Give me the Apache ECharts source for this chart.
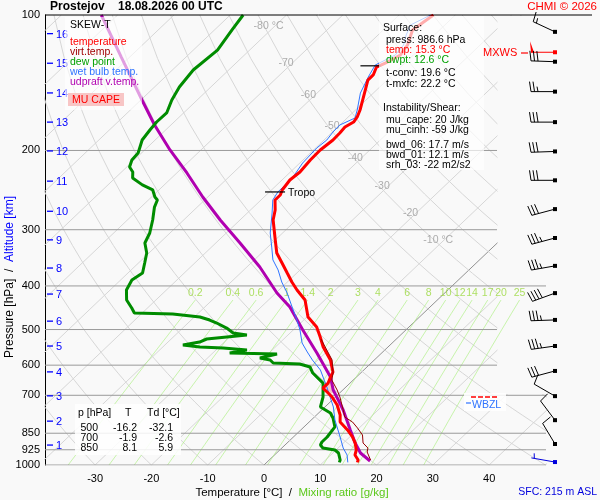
<!DOCTYPE html>
<html>
<head>
<meta charset="utf-8">
<script src="https://cdn.jsdelivr.net/npm/echarts@6/dist/echarts.min.js"></script>
<style>
  html, body { margin: 0; padding: 0; background: #f9f9f9; }
  #skewt { width: 600px; height: 500px; }
</style>
</head>
<body>
<div id="skewt"></div>
<script>
// sounding profiles (pressure hPa / temperature degC)
const tempP = [100, 108, 116.6, 122.7, 127.2, 130.5, 135.9, 139.5, 146.8, 154.5, 162.6, 168.5, 172.9, 177.4, 182.9, 189.6, 199.5, 210, 223.3, 232.6, 244.8, 251.2, 257.7, 271.3, 285.5, 316.2, 338, 355.7, 374.5, 392.1, 408.4, 429.9, 469, 493.6, 519.5, 546.8, 584.3, 621.5, 637.6, 657.5, 674.5, 688.4, 706.2, 735.6, 774.3, 802.5, 835.9, 866.5, 893.6, 926.1, 950.2, 974.7, 986.6];
const tempC = [-53.9, -54.8, -52.9, -52.3, -53.3, -54.3, -53.4, -53.4, -52.0, -50.6, -49.2, -48.4, -48.1, -48.7, -48.5, -48.4, -48.8, -48.7, -48.3, -48.6, -48.1, -47.5, -47.5, -45.6, -44.1, -40.0, -37.3, -34.5, -31.7, -29.2, -26.8, -23.5, -19.8, -16.4, -13.9, -11.5, -7.8, -5.1, -4.6, -3.9, -3.9, -2.4, -0.6, 1.8, 4.2, 5.5, 8.3, 10.5, 12.1, 13.6, 14.3, 15.8, 16.1];

const virtP = [524.8, 584.3, 624.6, 647.5, 681.3, 706.2, 754.6, 782.4, 802.5, 827.4, 857.7, 893.6, 916.8, 935.7, 974.7];
const virtC = [-13.4, -7.5, -4.9, -3.8, -1.0, 0.8, 3.8, 5.4, 7.7, 9.7, 11.9, 13.5, 15.3, 15.9, 18.0];

const dewP = [100, 108, 119.7, 132.5, 144.5, 154.5, 165.1, 172.9, 180.1, 189.6, 202.6, 210, 217.7, 223.3, 230.3, 238.5, 244.8, 253.8, 257.7, 267.2, 285.5, 305.1, 321.1, 338, 355.7, 374.5, 388, 408.4, 429.9, 447.8, 459.4, 461.8, 469, 476.3, 483.6, 496.2, 509, 514.2, 519.5, 524.8, 533, 541.2, 546.8, 549.5, 555.1, 563.8, 566.7, 578.4, 584.3, 593.4, 596.5, 605.7, 624.6, 657.5, 706.2, 743.2, 766.5, 786.4, 823.1, 866.5, 888.9, 902.9, 916.8, 926.1, 940.4, 974.7, 986.6];
const dewC = [-87.7, -86.9, -85.7, -86.3, -85.6, -84.5, -83.0, -83.1, -82.8, -82.3, -80.6, -80.4, -79.5, -78.0, -76.9, -73.9, -71.1, -69.4, -68.4, -67.6, -65.5, -63.6, -62.6, -60.4, -58.9, -57.4, -58.0, -57.1, -55.2, -52.8, -51.4, -44.4, -39.0, -36.7, -34.9, -32.2, -30.1, -27.3, -30.5, -33.7, -34.4, -36.8, -33.4, -29.1, -24.5, -27.0, -18.4, -20.7, -18.5, -17.4, -12.5, -10.1, -8.5, -4.8, -2.2, -0.8, 2.1, 3.5, 5.5, 6.0, 6.0, 6.3, 7.3, 9.8, 11.0, 12.6, 12.9];

const wetP = [100, 105.2, 110.8, 116.6, 122.7, 129.2, 137.3, 149.1, 162.6, 169.4, 175.6, 182, 189.6, 197.5, 213.3, 229.1, 241.1, 247.3, 257.7, 275.4, 305.1, 327.9, 350.1, 368.6, 392.1, 414.7, 445.5, 476.3, 501.2, 535.7, 560.9, 584.3, 615.1, 670.9, 743.2, 794.3, 866.5, 916.8, 950.2, 986.6];
const wetC = [-54.4, -56.1, -55.0, -53.6, -53.2, -54.9, -53.9, -52.3, -49.7, -48.6, -50.0, -49.9, -49.5, -49.8, -49.5, -48.6, -48.5, -48.5, -47.9, -45.6, -42.2, -39.3, -36.7, -33.9, -31.0, -28.0, -24.5, -21.2, -18.8, -16.0, -13.4, -11.0, -7.7, -3.4, 1.5, 4.2, 8.3, 10.9, 12.9, 14.4];

const parcelP = [100, 124, 154.5, 175.6, 199.5, 224.4, 253.8, 285.5, 321.1, 363.1, 414.7, 445.5, 501.2, 563.8, 637.6, 681.3, 728.2, 754.6, 835.9, 893.6, 940.4, 979.7];
const parcelC = [-112.9, -101.5, -89.8, -82.9, -75.5, -68.2, -60.9, -53.5, -45.7, -37.7, -29.8, -24.9, -18.3, -11.5, -4.6, -1.7, 1.9, 3.8, 8.8, 12.1, 14.9, 18.1];

const capeP = [654.1, 674.5, 695.5, 688.4, 654.1];
const capeC = [-3.9, -3.9, -1.5, -1.0, -3.6];

const tropoP = [247.3, 129.7];
const tropoC = [-49.0, -55.6];

// winds
const windP = [109, 121, 127, 148, 173, 201, 233, 270, 313, 361, 415, 476, 544, 618, 703, 795, 898, 985];
const windDir = [295, 270, 272, 270, 270, 268, 270, 255, 255, 260, 250, 268, 262, 255, 300, 323, 329, 280];
const windKt = [15, 50, 30, 25, 30, 30, 30, 30, 35, 35, 40, 35, 35, 30, 10, 10, 10, 5];
const windKind = [0, 1, 0, 0, 0, 0, 0, 0, 0, 0, 0, 0, 0, 0, 0, 0, 0, 2];

// altitude marks (km) and where they sit on the pressure axis
const altKm = [1, 2, 3, 4, 5, 6, 7, 8, 9, 10, 11, 12, 13, 14, 15, 16];
const altP = [903, 799, 702, 621, 544, 479, 417, 365, 316, 273, 234, 200.5, 173, 149, 128, 110];

// diagram furniture
const pressTicks = [100, 200, 300, 400, 500, 600, 700, 850, 925, 1000];
const pressLinesShort = [200, 300, 500, 600];
const pressLinesLong = [400, 700, 850, 925, 1000];
const tempTicks = [-30, -20, -10, 0, 10, 20, 30, 40];
const isoTemps = [-120, -110, -100, -90, -80, -70, -60, -50, -40, -30, -20, -10, 0, 10, 20, 30, 40, 50];
const isoLabelT = [-80, -70, -60, -50, -40, -30, -20, -10];
const isoLabelP = [106, 128, 151, 177, 208, 240, 275, 316];
const dryT1000 = [-40, -30, -20, -10, 0, 10, 20, 30, 40, 50, 60, 70, 80, 90, 100, 110, 120, 130, 140, 150, 160, 170, 180, 190];
const mixRatios = [0.2, 0.4, 0.6, 1, 1.4, 2, 3, 4, 6, 8, 10, 12, 14, 17, 20, 25];
const mixLevels = [1000, 950, 900, 850, 800, 750, 700, 650, 600, 550, 500, 460, 430];

const FONT = '"Liberation Sans", Arial, sans-serif';
const X_MIN = -38.9, X_MAX = 50.1, X_INNER = 41.4, SKEW = 84;
const skewX = (t, p) => t + SKEW * Math.log10(1000 / p);
const toPts = (P, T) => P.map((p, i) => [skewX(T[i], p), p]);

const series = [];
function addLine(data, color, width, z, extra) {
  series.push(Object.assign({
    type: 'line', data: data, symbol: 'none', silent: true, z: z,
    lineStyle: { color: color, width: width }, clip: true
  }, extra || {}));
}

// isotherms
isoTemps.forEach(t => {
  addLine([[skewX(t, 1000), 1000], [skewX(t, 100), 100]], t === 0 ? '#777' : '#d6d6d6', t === 0 ? 0.8 : 1, 1);
});
// dry adiabats
const adiabatP = [];
for (let p = 1000; p >= 100; p -= 25) adiabatP.push(p);
dryT1000.forEach(t0 => {
  const th = t0 + 273.15;
  addLine(adiabatP.map(p => [skewX(th * Math.pow(p / 1000, 0.2857) - 273.15, p), p]), '#d6d6d6', 1, 1);
});
// mixing ratio lines
const mixDew = (w, p) => {
  const e = w * p / (622 + w);
  const l = Math.log(e / 6.112);
  return 243.5 * l / (17.67 - l);
};
mixRatios.forEach(w => {
  addLine(mixLevels.map(p => [skewX(mixDew(w, p), p), p]), '#b2f08a', 0.7, 1.8);
});
series.push({
  type: 'scatter', symbolSize: 0, silent: true, z: 2,
  data: mixRatios.map(w => [skewX(mixDew(w, 430), 430), 430, w]),
  label: { show: true, position: 'top', distance: 1, formatter: p => String(p.value[2]),
           color: '#9ad83c', fontSize: 10.5, fontFamily: FONT }
});
// isotherm labels
series.push({
  type: 'scatter', symbolSize: 0, silent: true, z: 2,
  data: isoLabelT.map((t, i) => [skewX(t, isoLabelP[i]), isoLabelP[i], t]),
  label: { show: true, position: 'inside', offset: [-6, 0],
           formatter: p => (p.value[2] === -80 || p.value[2] === -10) ? p.value[2] + ' °C' : String(p.value[2]),
           color: '#999', fontSize: 10.5, fontFamily: FONT }
});
// pressure levels
pressLinesShort.forEach(p => addLine([[X_MIN, p], [X_INNER, p]], '#9a9a9a', 1, 2));
pressLinesLong.forEach(p => addLine([[X_MIN, p], [X_MAX, p]], '#9a9a9a', 1, 2));

// CAPE area
series.push({
  type: 'custom', z: 3, silent: true,
  data: toPts(capeP, capeC),
  renderItem: (params, api) => {
    if (params.dataIndex !== 0) return;
    const pts = capeP.map((p, i) => api.coord([skewX(capeC[i], p), p]));
    return { type: 'polygon', shape: { points: pts }, style: { fill: '#f5c6c6' } };
  }
});

// profiles
addLine(toPts(parcelP, parcelC), '#b000b0', 3, 4);
addLine(toPts(dewP, dewC), '#008c00', 3, 4);
addLine(toPts(wetP, wetC), '#2f74ff', 1, 5);
addLine(toPts(tempP, tempC), '#ff0000', 3, 5);
addLine(toPts(virtP, virtC), '#960000', 1, 6);

// tropopause marks
series.push({
  type: 'custom', z: 7, silent: true,
  data: toPts(tropoP, tropoC),
  renderItem: (params, api) => {
    const c = api.coord([api.value(0), api.value(1)]);
    const kids = [{ type: 'line', shape: { x1: c[0] - 10, y1: c[1], x2: c[0] + 10, y2: c[1] }, style: { stroke: '#000', lineWidth: 1.2 } }];
    if (params.dataIndex === 0) {
      kids.push({ type: 'text', style: { text: 'Tropo', x: c[0] + 13, y: c[1] + 1, fill: '#000', font: '10.5px ' + FONT, verticalAlign: 'middle' } });
    }
    return { type: 'group', children: kids };
  }
});

// altitude scale
series.push({
  type: 'custom', z: 7, silent: true,
  data: altP.map((p, i) => [X_MIN, p, altKm[i]]),
  renderItem: (params, api) => {
    const c = api.coord([X_MIN, api.value(1)]);
    return { type: 'group', children: [
      { type: 'line', shape: { x1: c[0] + 2, y1: c[1], x2: c[0] + 8, y2: c[1] }, style: { stroke: '#0000ff', lineWidth: 1.3 } },
      { type: 'text', style: { text: String(api.value(2)), x: c[0] + 11, y: c[1] + 1, fill: '#0000ff', font: '11px ' + FONT, verticalAlign: 'middle' } }
    ] };
  }
});

// wind barbs
series.push({
  type: 'custom', z: 7, silent: true,
  data: windP.map((p, i) => [p, windDir[i], windKt[i], windKind[i]]),
  encode: { x: -1, y: 0 },
  renderItem: (params, api) => {
    const base = api.coord([X_MAX, api.value(0)]);
    const sx = base[0] + 9, sy = base[1];
    const col = ['#000', '#ff0000', '#0000dd'][api.value(3)];
    const rad = api.value(1) * Math.PI / 180;
    const ux = Math.sin(rad), uy = -Math.cos(rad);
    const nx = -uy, ny = ux;
    const L = 24;
    const ex = sx + ux * L, ey = sy + uy * L;
    const kids = [
      { type: 'line', shape: { x1: sx, y1: sy, x2: ex, y2: ey }, style: { stroke: col, lineWidth: 1 } },
      { type: 'rect', shape: { x: sx - 2, y: sy - 2, width: 4, height: 4 }, style: { fill: col } }
    ];
    let rest = Math.round(api.value(2) / 5) * 5;
    let pos = 0;
    while (rest >= 50) {
      const px = ex - ux * pos, py = ey - uy * pos;
      kids.push({ type: 'polygon', shape: { points: [[px, py], [px + nx * 11 + ux * 1, py + ny * 11 + uy * 1], [px - ux * 3, py - uy * 3]] }, style: { fill: col } });
      pos += 4.5; rest -= 50;
    }
    while (rest >= 10) {
      const px = ex - ux * pos, py = ey - uy * pos;
      kids.push({ type: 'line', shape: { x1: px, y1: py, x2: px + nx * 10 + ux * 1.5, y2: py + ny * 10 + uy * 1.5 }, style: { stroke: col, lineWidth: 1 } });
      pos += 3.5; rest -= 10;
    }
    if (rest >= 5) {
      if (pos === 0) pos = 3;
      const px = ex - ux * pos, py = ey - uy * pos;
      kids.push({ type: 'line', shape: { x1: px, y1: py, x2: px + nx * 5 + ux * 1, y2: py + ny * 5 + uy * 1 }, style: { stroke: col, lineWidth: 1 } });
    }
    return { type: 'group', children: kids };
  }
});

const txt = (x, y, text, fill, size, extra) => Object.assign({
  type: 'text', x: x, y: y, z: 60,
  style: Object.assign({ text: text, fill: fill || '#000', font: (size || 10.5) + 'px ' + FONT, verticalAlign: 'middle' }, (extra || {}))
});

const graphics = [
  // upper right corner of the diagram carries no background grid
  { type: 'rect', z: 1.5, shape: { x: 497.5, y: 16, width: 50, height: 378 }, style: { fill: '#f9f9f9' } },
  { type: 'line', z: 40, shape: { x1: 45, y1: 15, x2: 592, y2: 15 }, style: { stroke: '#000', lineWidth: 1 } },
  // legend box
  { type: 'rect', z: 50, shape: { x: 65, y: 17, width: 77, height: 93 }, style: { fill: 'rgba(255,255,255,0.62)' } },
  { type: 'rect', z: 55, shape: { x: 68, y: 93, width: 56, height: 13 }, style: { fill: '#f8c6c6' } },
  txt(70, 25, 'SKEW-T', '#000', 10.5),
  txt(70, 42, 'temperature', '#ff0000'),
  txt(70, 52, 'virt.temp.', '#a00000'),
  txt(70, 62, 'dew point', '#00a000'),
  txt(70, 72, 'wet bulb temp.', '#2f74ff'),
  txt(70, 82, 'udpraft v.temp.', '#b000b0'),
  txt(96, 100, 'MU CAPE', '#ff0000', 10.5, { align: 'center' }),
  // info box
  { type: 'rect', z: 50, shape: { x: 379, y: 16, width: 105, height: 154 }, style: { fill: 'rgba(255,255,255,0.68)' } },
  txt(383, 28, 'Surface:'),
  txt(386, 40, 'press: 986.6 hPa'),
  txt(386, 50, 'temp: 15.3 °C', '#ff0000'),
  txt(386, 60, 'dwpt: 12.6 °C', '#00a000'),
  txt(386, 73, 't-conv: 19.6 °C'),
  txt(386, 84, 't-mxfc: 22.2 °C'),
  txt(383, 108, 'Instability/Shear:'),
  txt(386, 120, 'mu_cape: 20 J/kg'),
  txt(386, 130, 'mu_cinh: -59 J/kg'),
  txt(386, 145, 'bwd_06: 17.7 m/s'),
  txt(386, 155, 'bwd_01: 12.1 m/s'),
  txt(386, 165, 'srh_03: -22 m2/s2'),
  // level table
  { type: 'rect', z: 50, shape: { x: 75, y: 404, width: 106, height: 51 }, style: { fill: 'rgba(255,255,255,0.85)' } },
  txt(78, 413, 'p [hPa]'), txt(125, 413, 'T'), txt(147, 413, 'Td [°C]'),
  txt(98, 428, '500', '#000', 10.5, { align: 'right' }), txt(137, 428, '-16.2', '#000', 10.5, { align: 'right' }), txt(173, 428, '-32.1', '#000', 10.5, { align: 'right' }),
  txt(98, 438, '700', '#000', 10.5, { align: 'right' }), txt(137, 438, '-1.9', '#000', 10.5, { align: 'right' }), txt(173, 438, '-2.6', '#000', 10.5, { align: 'right' }),
  txt(98, 448, '850', '#000', 10.5, { align: 'right' }), txt(137, 448, '8.1', '#000', 10.5, { align: 'right' }), txt(173, 448, '5.9', '#000', 10.5, { align: 'right' }),
  // WBZL
  { type: 'rect', z: 50, shape: { x: 464, y: 393, width: 42, height: 18 }, style: { fill: 'rgba(255,255,255,0.85)' } },
  { type: 'line', z: 56, shape: { x1: 471, y1: 397, x2: 497, y2: 397 }, style: { stroke: '#ff0000', lineWidth: 1.5, lineDash: [5, 2] } },
  { type: 'line', z: 56, shape: { x1: 466, y1: 403, x2: 471, y2: 403 }, style: { stroke: '#2f74ff', lineWidth: 1.2 } },
  txt(472, 405, 'WBZL', '#2f74ff'),
  // MXWS
  txt(483, 53, 'MXWS', '#ff0000', 11),
  { type: 'line', z: 56, shape: { x1: 521, y1: 53, x2: 528, y2: 53 }, style: { stroke: '#ff0000', lineWidth: 1.2 } },
  // titles
  txt(50, 7, 'Prostejov', '#000', 12, { font: 'bold 12px ' + FONT }),
  txt(118, 7, '18.08.2026 00 UTC', '#000', 12, { font: 'bold 12px ' + FONT }),
  txt(597, 7, 'CHMI © 2026', '#ff0000', 11.5, { align: 'right' }),
  txt(597, 492, 'SFC: 215 m ASL', '#0000dd', 10.5, { align: 'right' }),
  {
    type: 'text', z: 60, x: 292, y: 493,
    style: {
      text: '{a|Temperature [°C]}{a|  /  }{b|Mixing ratio [g/kg]}', align: 'center', verticalAlign: 'middle',
      rich: { a: { fill: '#000', font: '11.5px ' + FONT }, b: { fill: '#5cc81c', font: '11.5px ' + FONT } }
    }
  },
  {
    type: 'text', z: 60, x: 10, y: 277, rotation: Math.PI / 2,
    style: {
      text: '{a|Pressure [hPa]}{a|  /  }{b|Altitude [km]}', align: 'center', verticalAlign: 'middle',
      rich: { a: { fill: '#000', font: '12px ' + FONT }, b: { fill: '#0000ff', font: '12px ' + FONT } }
    }
  }
];

const chart = echarts.init(document.getElementById('skewt'));
chart.setOption({
  animation: false,
  backgroundColor: '#f9f9f9',
  textStyle: { fontFamily: FONT },
  grid: { left: 45, right: 54, top: 15, bottom: 35, containLabel: false },
  xAxis: {
    type: 'value', min: X_MIN, max: X_MAX,
    axisLine: { show: false }, axisTick: { show: false }, splitLine: { show: false },
    axisLabel: { customValues: tempTicks, color: '#000', fontSize: 11, margin: 8, fontFamily: FONT }
  },
  yAxis: {
    type: 'log', logBase: 10, min: 100, max: 1000, inverse: true,
    axisLine: { show: true, onZero: false, lineStyle: { color: '#000', width: 1 } },
    axisTick: { show: false }, splitLine: { show: false }, minorSplitLine: { show: false },
    axisLabel: { customValues: pressTicks, formatter: v => String(Math.round(v)), color: '#000', fontSize: 11, margin: 5, fontFamily: FONT }
  },
  graphic: { elements: graphics },
  series: series
});
</script>
</body>
</html>
